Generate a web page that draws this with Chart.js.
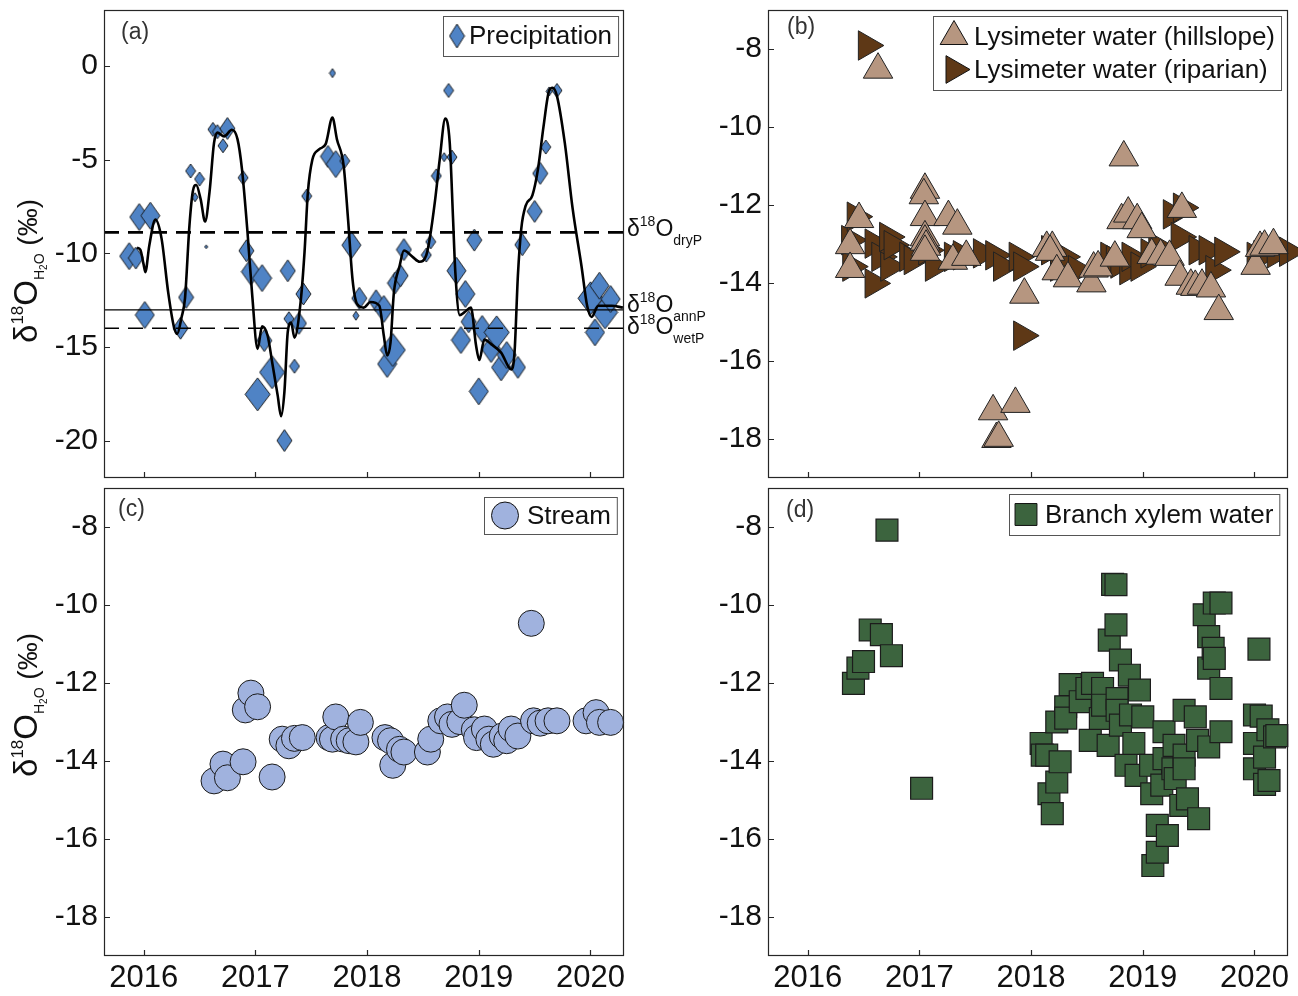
<!DOCTYPE html>
<html>
<head>
<meta charset="utf-8">
<title>δ18O time series</title>
<script src="https://cdn.jsdelivr.net/npm/chart.js@4.4.0/dist/chart.umd.min.js"></script>
<style>
  body { margin: 0; background: #fff; }
  #wrap { position: relative; width: 1298px; height: 996px; overflow: hidden; background: #fff; }
  #wrap canvas { position: absolute; }
</style>
</head>
<body>
<div id="wrap">
  <canvas id="panelA" width="720" height="480" style="left:0px;top:0px"></canvas>
  <canvas id="panelC" width="660" height="516" style="left:0px;top:480px"></canvas>
  <canvas id="panelB" width="638" height="480" style="left:660px;top:0px"></canvas>
  <canvas id="panelD" width="638" height="516" style="left:660px;top:480px"></canvas>
</div>
<script>
const FONT = '"Liberation Sans", Arial, Helvetica, sans-serif';
const INK = '#262626';

// Axes
const yearTicks = [2016, 2017, 2018, 2019, 2020];
const yearRange = [2015.645, 2020.3];
const precipTicks = [0, -5, -10, -15, -20];
const precipRange = [-22, 3];
const isoTicks = [-8, -10, -12, -14, -16, -18];
const isoRange = [-19, -7];

// (a) Precipitation (amount class 1..6 sets the diamond size)
const precipYear = [2015.87, 2015.93, 2015.96, 2016.01, 2016.06, 2016.33, 2016.38, 2016.42, 2016.46, 2016.50,
  2016.56, 2016.62, 2016.66, 2016.71, 2016.75, 2016.89, 2016.92, 2016.96, 2017.02, 2017.06,
  2017.08, 2017.15, 2017.26, 2017.29, 2017.30, 2017.35, 2017.39, 2017.43, 2017.46, 2017.65,
  2017.69, 2017.72, 2017.80, 2017.86, 2017.90, 2017.93, 2018.08, 2018.15, 2018.18, 2018.23,
  2018.25, 2018.30, 2018.33, 2018.53, 2018.57, 2018.62, 2018.69, 2018.73, 2018.76, 2018.80,
  2018.84, 2018.88, 2018.91, 2018.96, 2019.00, 2019.03, 2019.11, 2019.16, 2019.20, 2019.25,
  2019.35, 2019.39, 2019.50, 2019.55, 2019.60, 2019.63, 2019.70, 2020.00, 2020.04, 2020.08,
  2020.13, 2020.18];
const precipD18O = [-10.15, -10.25, -8.06, -13.29, -7.99, -14.0, -12.35, -5.6, -7.0, -6.03,
  -9.65, -3.38, -3.5, -4.25, -3.33, -5.96, -9.86, -10.98, -17.53, -11.32,
  -14.66, -16.35, -20.0, -10.93, -13.49, -16.03, -13.74, -12.17, -6.94, -4.82,
  -0.37, -5.23, -5.06, -9.56, -13.33, -12.4, -12.53, -12.97, -15.91, -15.16,
  -11.59, -11.19, -9.8, -10.09, -9.38, -5.86, -4.86, -1.3, -4.86, -10.93,
  -14.63, -12.17, -13.65, -9.29, -17.37, -14.04, -15.11, -14.22, -16.09, -15.43,
  -16.09, -9.54, -7.76, -5.73, -4.32, -1.35, -1.3, -12.4, -14.22, -11.73,
  -13.15, -12.44];
const precipAmount = [5, 4, 5, 5, 5, 4, 4, 3, 2, 3,
  1, 3, 3, 3, 4, 3, 4, 5, 6, 5,
  4, 6, 4, 4, 3, 3, 4, 4, 3, 4,
  2, 5, 3, 5, 2, 4, 4, 5, 5, 6,
  4, 4, 4, 3, 3, 3, 2, 3, 3, 5,
  5, 5, 4, 4, 5, 5, 5, 6, 5, 5,
  4, 4, 4, 4, 3, 2, 3, 6, 5, 5,
  6, 5];

// smoothed precipitation curve
const fitYear = [2015.94, 2015.97, 2016.00, 2016.015, 2016.05, 2016.105, 2016.16, 2016.22, 2016.27, 2016.30,
  2016.34, 2016.37, 2016.41, 2016.44, 2016.47, 2016.51, 2016.55, 2016.59, 2016.63, 2016.66,
  2016.72, 2016.79, 2016.84, 2016.88, 2016.93, 2016.97, 2017.02, 2017.06, 2017.11, 2017.15,
  2017.20, 2017.23, 2017.26, 2017.29, 2017.32, 2017.35, 2017.405, 2017.44, 2017.47, 2017.51,
  2017.57, 2017.63, 2017.69, 2017.73, 2017.79, 2017.83, 2017.87, 2017.91, 2017.97, 2018.03,
  2018.11, 2018.15, 2018.18, 2018.21, 2018.24, 2018.29, 2018.33, 2018.41, 2018.47, 2018.53,
  2018.56, 2018.61, 2018.65, 2018.70, 2018.74, 2018.77, 2018.79, 2018.83, 2018.87, 2018.93,
  2018.975, 2019.005, 2019.05, 2019.11, 2019.20, 2019.29, 2019.32, 2019.35, 2019.38, 2019.42,
  2019.48, 2019.53, 2019.58, 2019.63, 2019.66, 2019.70, 2019.77, 2019.84, 2019.92, 2019.97,
  2020.01, 2020.07, 2020.19, 2020.29];
const fitD18O = [-9.7, -9.8, -10.6, -11.0, -9.6, -8.2, -9.2, -12.1, -13.9, -14.3,
  -13.4, -12.4, -8.5, -6.7, -6.35, -7.1, -8.3, -6.7, -4.1, -3.55,
  -3.75, -3.4, -3.9, -5.5, -8.9, -12.1, -15.1, -13.9, -14.4, -15.8,
  -17.6, -18.7, -17.4, -14.2, -13.7, -14.5, -12.6, -9.95, -6.75, -5.0,
  -4.45, -4.15, -2.75, -3.9, -5.3, -8.2, -11.4, -12.7, -12.9, -12.6,
  -12.8, -14.4, -15.45, -14.75, -12.1, -10.7, -9.85, -10.2, -10.45, -10.1,
  -9.25, -7.1, -5.0, -2.8, -4.1, -8.2, -11.0, -13.3, -13.15, -12.9,
  -14.9, -15.7, -14.6, -14.85, -15.3, -16.2, -15.3, -11.2, -8.7, -7.45,
  -6.9, -5.5, -3.2, -1.3, -1.15, -1.6, -4.1, -7.6, -10.7, -12.8,
  -13.4, -12.8, -12.8, -12.9];

// reference precipitation values
const dryP = -8.88;
const annP = -13.02;
const wetP = -14.0;

// (b) Lysimeter water
const hillYear = [2016.38, 2016.38, 2016.46, 2016.63, 2017.05, 2017.04, 2017.05, 2017.05, 2017.05, 2017.06,
  2017.05, 2017.26, 2017.30, 2017.34, 2017.42, 2017.66, 2017.69, 2017.71, 2017.86, 2017.94,
  2018.14, 2018.19, 2018.17, 2018.23, 2018.33, 2018.54, 2018.56, 2018.60, 2018.75, 2018.81,
  2018.83, 2018.87, 2018.95, 2018.99, 2019.08, 2019.16, 2019.24, 2019.33, 2019.35, 2019.43,
  2019.47, 2019.53, 2019.61, 2019.68, 2020.01, 2020.05, 2020.09, 2020.17];
const hillD18O = [-13.03, -13.64, -12.36, -8.53, -11.61, -11.75, -12.31, -12.83, -12.94, -13.07,
  -13.2, -12.31, -13.43, -12.53, -13.33, -17.29, -18.0, -17.97, -17.1, -14.3,
  -13.1, -13.1, -13.2, -13.7, -13.88, -14.01, -13.63, -13.6, -13.35, -12.39,
  -10.78, -12.22, -12.39, -12.62, -13.28, -13.3, -13.33, -13.84, -12.1, -14.07,
  -14.1, -14.07, -14.14, -14.72, -13.56, -13.1, -13.07, -13.03];
const ripYear = [2016.39, 2016.38, 2016.43, 2016.53, 2016.59, 2016.59, 2016.65, 2016.72, 2016.73, 2016.76,
  2016.90, 2016.94, 2017.07, 2017.13, 2017.30, 2017.38, 2017.56, 2017.67, 2017.74, 2017.88,
  2017.92, 2017.92, 2018.17, 2018.25, 2018.29, 2018.41, 2018.70, 2018.75, 2018.79, 2018.87,
  2018.89, 2018.97, 2019.06, 2019.13, 2019.26, 2019.33, 2019.35, 2019.49, 2019.58, 2019.64,
  2019.72, 2020.01, 2020.07, 2020.19, 2020.30];
const ripD18O = [-13.58, -12.9, -12.3, -7.91, -14.01, -12.99, -13.33, -12.82, -13.58, -13.03,
  -13.33, -13.41, -13.16, -13.58, -13.33, -13.29, -13.24, -13.29, -13.58, -13.33,
  -13.58, -15.35, -13.16, -13.58, -13.33, -13.67, -13.33, -13.41, -13.5, -13.67,
  -13.33, -13.58, -13.24, -13.07, -12.24, -12.82, -12.07, -13.16, -13.16, -13.67,
  -13.2, -13.33, -13.29, -13.24, -13.2];

// (c) Stream
const streamYear = [2016.63, 2016.71, 2016.75, 2016.89, 2016.91, 2016.96, 2017.02, 2017.15, 2017.24, 2017.30,
  2017.35, 2017.42, 2017.66, 2017.69, 2017.72, 2017.79, 2017.84, 2017.90, 2017.94, 2018.16,
  2018.21, 2018.23, 2018.29, 2018.33, 2018.54, 2018.57, 2018.66, 2018.72, 2018.76, 2018.83,
  2018.87, 2018.96, 2018.98, 2019.05, 2019.09, 2019.13, 2019.21, 2019.25, 2019.29, 2019.35,
  2019.47, 2019.49, 2019.55, 2019.62, 2019.70, 2019.96, 2020.05, 2020.08, 2020.18];
const streamD18O = [-14.51, -14.08, -14.43, -14.02, -12.69, -12.26, -12.61, -14.41, -13.44, -13.61,
  -13.42, -13.4, -13.4, -13.44, -12.87, -13.44, -13.48, -13.51, -13.01, -13.4,
  -13.48, -14.11, -13.7, -13.77, -13.77, -13.44, -12.97, -12.87, -13.06, -12.99,
  -12.57, -13.2, -13.4, -13.18, -13.44, -13.57, -13.36, -13.48, -13.18, -13.36,
  -10.47, -12.97, -13.03, -12.97, -12.97, -12.97, -12.76, -13.01, -13.01];

// (d) Branch xylem water
const xylemYear = [2016.41, 2016.45, 2016.50, 2016.56, 2016.66, 2016.71, 2016.75, 2017.02, 2018.09, 2018.10,
  2018.14, 2018.16, 2018.19, 2018.23, 2018.23, 2018.26, 2018.31, 2018.31, 2018.35, 2018.44,
  2018.50, 2018.53, 2018.55, 2018.62, 2018.64, 2018.64, 2018.69, 2018.70, 2018.73, 2018.76,
  2018.76, 2018.77, 2018.77, 2018.80, 2018.80, 2018.85, 2018.88, 2018.89, 2018.92, 2018.94,
  2018.97, 2019.00, 2019.07, 2019.08, 2019.09, 2019.13, 2019.13, 2019.17, 2019.19, 2019.19,
  2019.22, 2019.27, 2019.28, 2019.29, 2019.34, 2019.37, 2019.37, 2019.37, 2019.40, 2019.47,
  2019.49, 2019.50, 2019.55, 2019.59, 2019.59, 2019.59, 2019.63, 2019.64, 2019.64, 2019.70,
  2019.70, 2019.70, 2020.00, 2020.00, 2020.00, 2020.04, 2020.06, 2020.09, 2020.09, 2020.12,
  2020.13, 2020.18, 2020.20];
const xylemD18O = [-12.01, -11.62, -11.45, -10.64, -10.76, -8.08, -11.3, -14.7, -13.55, -13.85,
  -13.85, -14.84, -15.35, -14.54, -13.0, -14.02, -12.61, -12.9, -12.04, -12.48,
  -12.14, -13.47, -12.01, -12.91, -12.14, -12.57, -13.6, -10.9, -9.47, -9.48,
  -10.51, -12.4, -12.7, -11.41, -13.08, -14.11, -11.8, -12.82, -13.55, -14.37,
  -12.18, -12.87, -14.11, -14.84, -16.68, -15.65, -16.34, -14.62, -13.25, -13.94,
  -15.91, -14.2, -13.6, -14.45, -15.14, -12.7, -13.85, -14.2, -14.97, -12.87,
  -13.47, -15.48, -10.25, -10.81, -11.62, -13.64, -11.11, -9.95, -11.37, -9.95,
  -12.14, -13.25, -12.82, -13.55, -14.2, -11.13, -12.85, -13.9, -14.6, -13.2,
  -14.5, -13.38, -13.35];

// colours
const precipColor = '#4f83c5';
const hillColor = '#b69680';
const ripColor = '#5e3816';
const streamColor = '#a0b2de';
const xylemColor = '#3c643e';

const pts = (xs, ys) => xs.map((x, i) => ({ x: x, y: ys[i] }));

// MATLAB-like diamonds (taller than wide), one image per amount class
function diamond(hw, hh) {
  const c = document.createElement('canvas');
  c.width = Math.ceil(2 * hw + 2);
  c.height = Math.ceil(2 * hh + 2);
  const g = c.getContext('2d');
  const cx = c.width / 2, cy = c.height / 2;
  g.beginPath();
  g.moveTo(cx, cy - hh);
  g.lineTo(cx + hw, cy);
  g.lineTo(cx, cy + hh);
  g.lineTo(cx - hw, cy);
  g.closePath();
  g.fillStyle = precipColor;
  g.fill();
  g.strokeStyle = '#111';
  g.lineWidth = 0.9;
  g.stroke();
  return c;
}
const diamondSizes = { 1: [1.6, 1.8], 2: [3, 4.5], 3: [5, 7], 4: [7.5, 11], 5: [9.5, 13.5], 6: [12.5, 16.5] };
const diamonds = {};
Object.keys(diamondSizes).forEach(k => { diamonds[k] = diamond(diamondSizes[k][0], diamondSizes[k][1]); });
const legendDiamond = diamond(7.5, 12);

// text with super/subscripts: parts = [text, size, dy]
function richText(ctx, x, y, parts, align) {
  let w = 0;
  parts.forEach(p => { ctx.font = p[1] + 'px ' + FONT; w += ctx.measureText(p[0]).width; });
  let cx = align === 'center' ? x - w / 2 : x;
  ctx.textAlign = 'left';
  ctx.textBaseline = 'alphabetic';
  parts.forEach(p => {
    ctx.font = p[1] + 'px ' + FONT;
    ctx.fillText(p[0], cx, y + (p[2] || 0));
    cx += ctx.measureText(p[0]).width;
  });
}

const decor = {
  id: 'decor',
  afterDraw(chart, args, o) {
    const ctx = chart.ctx, a = chart.chartArea;
    const xs = chart.scales.x, ys = chart.scales.y;
    ctx.save();

    // reference labels on the right of (a)
    if (o.refLabels) {
      ctx.fillStyle = '#111';
      o.refLabels.forEach(r => {
        const py = ys.getPixelForValue(r.value) + r.dy;
        richText(ctx, a.right + 3, py, [['δ', 23], ['18', 14, -10], ['O', 23], [r.sub, 14, 9]]);
      });
    }

    // y title
    if (o.yTitle) {
      ctx.save();
      ctx.translate(o.yTitle.x, o.yTitle.y);
      ctx.rotate(-Math.PI / 2);
      ctx.fillStyle = '#111';
      richText(ctx, 0, 0, [['δ', 33], ['18', 17, -14], ['O', 33], ['H', 14, 7], ['2', 10, 10], ['O', 14, 7], [' (‰)', 28]], 'center');
      ctx.restore();
    }

    // box and inward ticks
    ctx.strokeStyle = INK;
    ctx.lineWidth = 1.2;
    ctx.beginPath();
    yearTicks.forEach(v => {
      const p = Math.round(xs.getPixelForValue(v)) + 0.5;
      ctx.moveTo(p, a.bottom);
      ctx.lineTo(p, a.bottom - 6);
    });
    o.yTicks.forEach(v => {
      const p = Math.round(ys.getPixelForValue(v)) + 0.5;
      ctx.moveTo(a.left, p);
      ctx.lineTo(a.left + 6, p);
    });
    ctx.stroke();
    ctx.strokeRect(a.left + 0.5, a.top + 0.5, a.right - a.left - 1, a.bottom - a.top - 1);

    // panel tag
    ctx.fillStyle = '#333';
    ctx.font = '23px ' + FONT;
    ctx.textAlign = 'left';
    ctx.textBaseline = 'middle';
    ctx.fillText(o.tag, a.left + o.tagDx, a.top + o.tagDy);

    // legend box
    const lg = o.legend;
    ctx.font = '26px ' + FONT;
    const tw = Math.max(...lg.rows.map(r => ctx.measureText(r.text).width));
    const w = lg.textX + tw + 6;
    const h = lg.rows.length * lg.rowH + 2 * lg.padY;
    const bx = Math.round(a.right - lg.right - w), by = Math.round(a.top + lg.top);
    ctx.fillStyle = '#fff';
    ctx.fillRect(bx, by, w, h);
    ctx.strokeStyle = '#555';
    ctx.lineWidth = 1;
    ctx.strokeRect(bx + 0.5, by + 0.5, w, h);
    lg.rows.forEach((r, i) => {
      const cy = by + lg.padY + lg.rowH * (i + 0.5);
      ctx.fillStyle = r.fill;
      ctx.strokeStyle = '#111';
      ctx.lineWidth = 1;
      Chart.helpers.drawPoint(ctx, { pointStyle: r.style, radius: r.radius, rotation: r.rotation || 0, borderWidth: 1 }, bx + lg.markX, cy);
      ctx.fillStyle = '#111';
      ctx.font = '26px ' + FONT;
      ctx.textAlign = 'left';
      ctx.textBaseline = 'middle';
      ctx.fillText(r.text, bx + lg.textX, cy + 1);
    });
    ctx.restore();
  }
};

function axes(yRange, yTicks, showX, yWidth, xHeight) {
  return {
    x: {
      type: 'linear', min: yearRange[0], max: yearRange[1],
      grid: { display: false, drawTicks: false }, border: { display: false },
      ticks: { display: showX, color: '#111', font: { family: FONT, size: 31 }, padding: 4, callback: v => String(v) },
      afterBuildTicks: s => { s.ticks = yearTicks.map(v => ({ value: v })); },
      afterFit: s => { s.height = xHeight; s.paddingLeft = 0; s.paddingRight = 0; }
    },
    y: {
      type: 'linear', min: yRange[0], max: yRange[1],
      grid: { display: false, drawTicks: false }, border: { display: false },
      ticks: { color: '#111', font: { family: FONT, size: 30 }, padding: 6, callback: v => String(v) },
      afterBuildTicks: s => { s.ticks = yTicks.map(v => ({ value: v })); },
      afterFit: s => { s.width = yWidth; s.paddingTop = 0; s.paddingBottom = 0; }
    }
  };
}

function baseOptions(padding, scales, decorOpts) {
  return {
    responsive: false,
    animation: false,
    events: [],
    layout: { padding: padding, autoPadding: false },
    scales: scales,
    plugins: { legend: { display: false }, tooltip: { enabled: false }, decor: decorOpts }
  };
}

// (a)
new Chart(document.getElementById('panelA'), {
  type: 'scatter',
  plugins: [decor],
  data: {
    datasets: [
      { data: pts(fitYear, fitD18O), showLine: true, borderColor: '#000', borderWidth: 2.6, pointRadius: 0,
        cubicInterpolationMode: 'monotone', order: 0, clip: false },
      { data: [{ x: yearRange[0], y: dryP }, { x: yearRange[1], y: dryP }], showLine: true, borderColor: '#000',
        borderWidth: 2.6, borderDash: [15, 9], pointRadius: 0, order: 1 },
      { data: [{ x: yearRange[0], y: annP }, { x: yearRange[1], y: annP }], showLine: true, borderColor: '#000',
        borderWidth: 1.4, pointRadius: 0, order: 1 },
      { data: [{ x: yearRange[0], y: wetP }, { x: yearRange[1], y: wetP }], showLine: true, borderColor: '#000',
        borderWidth: 1.6, borderDash: [15, 9], pointRadius: 0, order: 1 },
      { data: pts(precipYear, precipD18O), pointStyle: precipAmount.map(l => diamonds[l]), pointRadius: 6,
        order: 2, clip: false }
    ]
  },
  options: baseOptions({ left: 0, right: 96, top: 10, bottom: 2 },
    axes(precipRange, precipTicks, false, 104, 0),
    {
      tag: '(a)', tagDx: 17, tagDy: 23, yTicks: precipTicks,
      yTitle: { x: 37, y: 271 },
      refLabels: [{ value: dryP, sub: 'dryP', dy: 4 }, { value: annP, sub: 'annP', dy: 2 }, { value: wetP, sub: 'wetP', dy: 6 }],
      legend: { rowH: 40, padY: 0, markX: 14, textX: 26, right: 6, top: 6,
        rows: [{ text: 'Precipitation', style: legendDiamond, radius: 8, fill: precipColor }] }
    })
});

// (b)
new Chart(document.getElementById('panelB'), {
  type: 'scatter',
  plugins: [decor],
  data: {
    datasets: [
      { data: pts(hillYear, hillD18O), pointStyle: 'triangle', pointRadius: 17, backgroundColor: hillColor,
        borderColor: '#222', borderWidth: 1, order: 0, clip: false },
      { data: pts(ripYear, ripD18O), pointStyle: 'triangle', rotation: 90, pointRadius: 17, backgroundColor: ripColor,
        borderColor: '#222', borderWidth: 1, order: 1, clip: false }
    ]
  },
  options: baseOptions({ left: 0, right: 10, top: 10, bottom: 2 },
    axes(isoRange, isoTicks, false, 108, 0),
    {
      tag: '(b)', tagDx: 19, tagDy: 18, yTicks: isoTicks,
      legend: { rowH: 33, padY: 4, markX: 21, textX: 41, right: 7, top: 6,
        rows: [
          { text: 'Lysimeter water (hillslope)', style: 'triangle', radius: 16, fill: hillColor },
          { text: 'Lysimeter water (riparian)', style: 'triangle', radius: 16, rotation: 90, fill: ripColor }
        ] }
    })
});

// (c)
new Chart(document.getElementById('panelC'), {
  type: 'scatter',
  plugins: [decor],
  data: {
    datasets: [
      { data: pts(streamYear, streamD18O), pointStyle: 'circle', pointRadius: 13, backgroundColor: streamColor,
        borderColor: '#1a1a1a', borderWidth: 1, clip: false }
    ]
  },
  options: baseOptions({ left: 0, right: 36, top: 8, bottom: 0 },
    axes(isoRange, isoTicks, true, 104, 40),
    {
      tag: '(c)', tagDx: 14, tagDy: 22, yTicks: isoTicks,
      yTitle: { x: 37, y: 225 },
      legend: { rowH: 37, padY: 0, markX: 21, textX: 43, right: 7, top: 9,
        rows: [{ text: 'Stream', style: 'circle', radius: 13.5, fill: streamColor }] }
    })
});

// (d)
new Chart(document.getElementById('panelD'), {
  type: 'scatter',
  plugins: [decor],
  data: {
    datasets: [
      { data: pts(xylemYear, xylemD18O), pointStyle: 'rect', pointRadius: 15.5, backgroundColor: xylemColor,
        borderColor: '#1c1c1c', borderWidth: 1.2, clip: false }
    ]
  },
  options: baseOptions({ left: 0, right: 10, top: 8, bottom: 0 },
    axes(isoRange, isoTicks, true, 108, 40),
    {
      tag: '(d)', tagDx: 18, tagDy: 23, yTicks: isoTicks,
      legend: { rowH: 41, padY: 0, markX: 17, textX: 36, right: 9, top: 6,
        rows: [{ text: 'Branch xylem water', style: 'rect', radius: 15.5, fill: xylemColor }] }
    })
});
</script>
</body>
</html>
